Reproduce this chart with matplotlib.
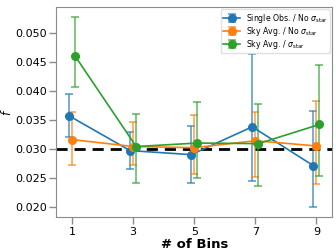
import matplotlib
matplotlib.use('Agg')
import matplotlib.pyplot as plt
import numpy as np

bins = np.array([1, 3, 5, 7, 9])

labels = [r'Single Obs. / No $\sigma_{\rm star}$',
          r'Sky Avg. / No $\sigma_{\rm star}$',
          r'Sky Avg. / $\sigma_{\rm star}$']
colors = ['#1f77b4', '#ff7f0e', '#2ca02c']
offsets = [-0.1, 0.0, 0.1]

# centre values and the ends of each error bar
f_single = [0.0357, 0.0297, 0.0290, 0.0338, 0.0271]
f_single_hi = [0.0395, 0.0329, 0.0340, 0.0464, 0.0365]
f_single_lo = [0.0321, 0.0266, 0.0241, 0.0244, 0.0199]

f_sky = [0.0316, 0.0304, 0.0302, 0.0314, 0.0305]
f_sky_hi = [0.0363, 0.0346, 0.0358, 0.0364, 0.0383]
f_sky_lo = [0.0272, 0.0272, 0.0257, 0.0252, 0.0240]

f_skystar = [0.0460, 0.0304, 0.0310, 0.0309, 0.0342]
f_skystar_hi = [0.0528, 0.0360, 0.0380, 0.0378, 0.0444]
f_skystar_lo = [0.0406, 0.0241, 0.0250, 0.0236, 0.0253]

f_true = 0.030

series = [(f_single, f_single_lo, f_single_hi),
          (f_sky, f_sky_lo, f_sky_hi),
          (f_skystar, f_skystar_lo, f_skystar_hi)]

fig, ax = plt.subplots(figsize=(3.36, 2.52), dpi=100)

for (y, lo, hi), lab, c, off in zip(series, labels, colors, offsets):
    y = np.array(y)
    yerr = [y - np.array(lo), np.array(hi) - y]
    eb = ax.errorbar(bins + off, y, yerr=yerr, color=c, marker='o', ms=5.5,
                     lw=1.2, elinewidth=1.2, capsize=3, capthick=1.2, label=lab)
    for part in eb[1] + eb[2]:
        part.set_alpha(0.7)

ax.axhline(f_true, color='k', ls='--', lw=2, dashes=(4, 2.5), zorder=0.5)

ax.set_xticks(bins)
ax.set_yticks([0.020, 0.025, 0.030, 0.035, 0.040, 0.045, 0.050])
ax.set_xlabel('# of Bins', fontsize=9.5, fontweight='bold', labelpad=1)
ax.set_ylabel(r'$f$', fontsize=8.5, labelpad=0.5)
ax.tick_params(labelsize=8, length=5, width=1, color='#8c8c8c', pad=2)
for sp in ax.spines.values():
    sp.set_color('#8c8c8c')

leg = ax.legend(loc='upper right', fontsize=5.6, framealpha=0.9,
                handlelength=2.2, handletextpad=0.7, borderpad=0.3,
                labelspacing=0.0, borderaxespad=0.3)
leg.get_frame().set_edgecolor('#dddddd')

fig.subplots_adjust(left=0.168, right=0.988, top=0.972, bottom=0.139)
fig.savefig('out.png', dpi=100)
